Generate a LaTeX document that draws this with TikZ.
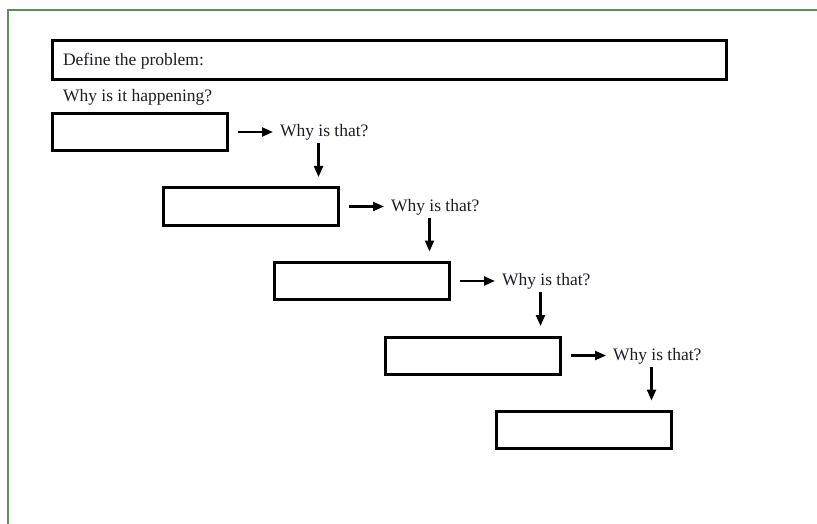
\documentclass[tikz,border=0pt]{standalone}
\usepackage{fontspec}
\setmainfont{Liberation Serif}
\usetikzlibrary{arrows.meta,calc}
\definecolor{framegreen}{RGB}{96,140,96}
\definecolor{inktext}{RGB}{30,28,40}
\tikzset{
  answerbox/.style={draw=black, line width=3pt, fill=white, minimum width=175pt, minimum height=37pt, inner sep=0pt},
  problembox/.style={draw=black, line width=3pt, fill=white, minimum width=674pt, minimum height=39pt, inner sep=0pt},
  label/.style={inner sep=0pt, outer sep=0pt, anchor=west, font=\fontsize{17.5}{20}\selectfont, text=inktext},
  arr/.style={line width=2.2pt, -{Triangle[length=11pt,width=9pt]}},
}
\begin{document}
\begin{tikzpicture}[x=1pt, y=-1pt]
  \useasboundingbox (0,0) rectangle (817,524);

  % page frame
  \draw[framegreen, line width=2pt] (817,10) -- (8,10) -- (8,524);

  % problem statement
  \node[problembox] (problem) at (389.5,60) {};
  \node[label] (define) at (63,61) {Define the problem:};
  \node[label] (why0) at (63,97.5) {Why is it happening?};

  % cascade of answer boxes
  \foreach \i in {1,...,5} {
    \node[answerbox] (box\i) at ({140+111*(\i-1)}, {132+74.5*(\i-1)}) {};
  }

  % "why" prompts and arrows between the boxes
  \foreach \i/\j in {1/2,2/3,3/4,4/5} {
    \node[label] (why\i) at ([xshift=51pt,yshift=-0.5pt]box\i.east) {Why is that?};
    \draw[arr, shorten <=9pt, shorten >=7pt] (box\i.east) -- (why\i.west |- box\i.east);
    \coordinate (drop\i) at ([xshift=89.5pt]box\i.east);
    \draw[arr, shorten >=9.5pt] ([yshift=-11pt]drop\i) -- (drop\i |- box\j.north);
  }
\end{tikzpicture}
\end{document}
